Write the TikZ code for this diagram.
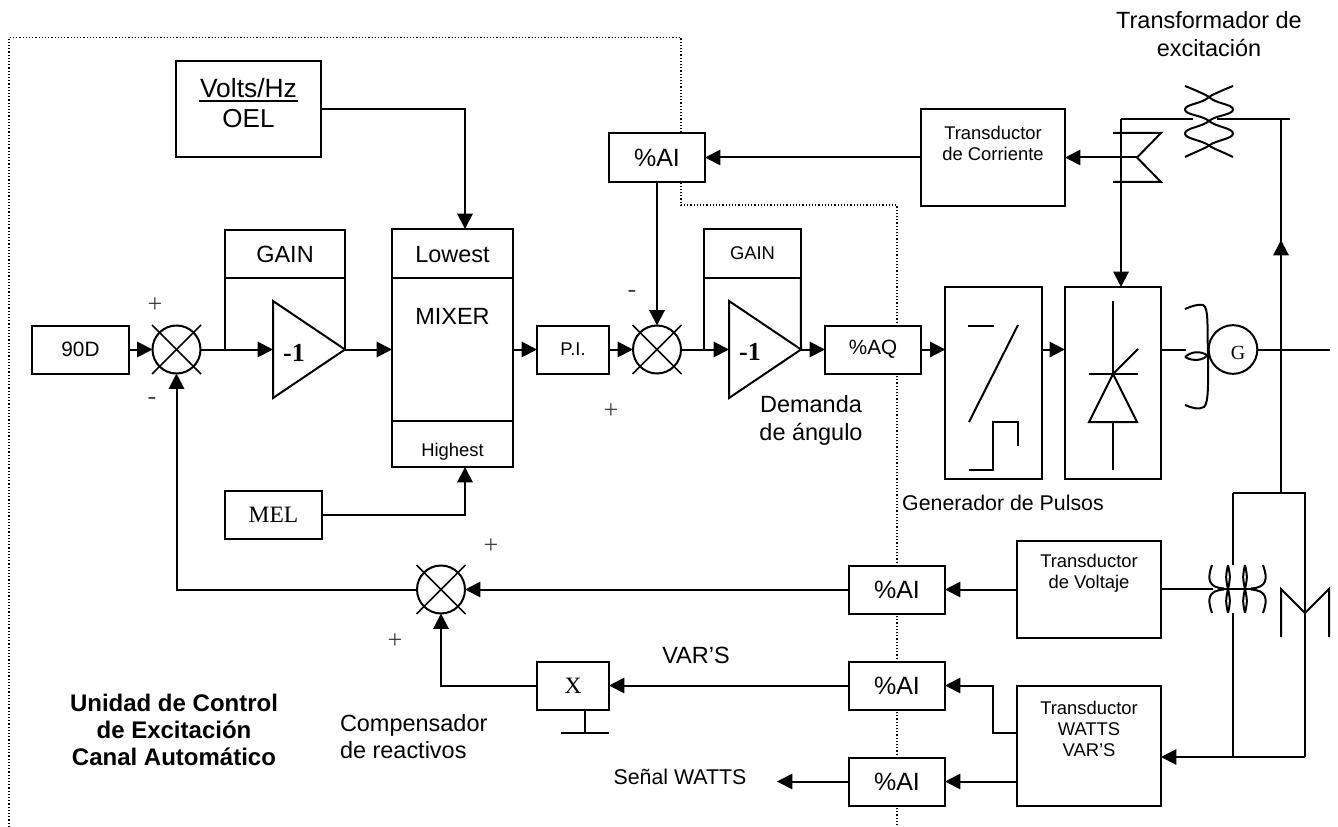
\documentclass[tikz,border=0pt]{standalone}
\usepackage{fontspec}
\setmainfont{Liberation Sans}
\newfontfamily\serifx{Liberation Serif}
\usetikzlibrary{arrows.meta,calc}
\tikzset{
  x=0.75pt,y=-0.75pt,
  ln/.style={line width=1.5pt,line join=miter},
  arr/.style={ln,-{Triangle[length=11.5pt,width=11.5pt]},shorten >=0pt},
  blk/.style={draw,fill=white,line width=1.5pt,rectangle,inner sep=0pt,outer sep=0pt,align=center},
  txt/.style={inner sep=0pt,outer sep=0pt,align=center,text=black},
  f24/.style={font=\fontsize{17.6}{20.5}\selectfont},
  f25/.style={font=\fontsize{18.75}{20.5}\selectfont},
  f21/.style={font=\fontsize{15.6}{20}\selectfont},
  f18/.style={font=\fontsize{13.8}{15.8}\selectfont},
  sumc/.style={circle,draw,fill=white,line width=1.5pt,minimum size=36pt,inner sep=0pt,outer sep=0pt},
  dots/.style={line width=0.9pt,dash pattern=on 0.9pt off 1.5pt},
  sym/.style={line width=1.5pt},
  cross/.style={line width=1.2pt},
  signt/.style={txt,font=\serifx\fontsize{19.5}{20}\selectfont,text=black!75},
}
\newcommand{\sumx}[3]{%
  \node[sumc] (#1) at (#2,#3) {};
  \draw[cross] ($(#1)+(-24.5,-24.5)$) -- ($(#1)+(24.5,24.5)$);
  \draw[cross] ($(#1)+(-24.5,24.5)$) -- ($(#1)+(24.5,-24.5)$);
}
\begin{document}
\begin{tikzpicture}
\fill[white] (0,0) rectangle (1338,827);
\useasboundingbox (0,0) rectangle (1338,827);
% dotted frame
\draw[dots] (9,827) -- (9,37.5) -- (681,37.5) -- (681,205) -- (897,205) -- (897,827);
% top left
\node[blk,minimum width=108.75pt,minimum height=72pt] (volts) at (248.5,109) {};
\node[txt] (voltst) at (248.5,88) {\fontsize{19.8}{22}\selectfont Volts/Hz};
\draw[line width=1.5pt] (199,101) -- (298,101);
\node[txt] (oelt) at (248.5,119) {\fontsize{19.5}{22}\selectfont OEL};
% input
\node[blk,f21,minimum width=72.75pt,minimum height=36pt] (d90) at (80.5,349.5) {90D};
\sumx{s1}{176.5}{349.5}
\node[blk,f24,minimum width=90pt,minimum height=36pt] (gain1) at (285,254) {GAIN};
\coordinate (t1i) at (273,349.5);
\coordinate (t1o) at (345,349.5);
\draw[ln,fill=white] (273,301) -- (345,349.5) -- (273,398) -- cycle;
\node[txt] (m1) at (294,353) {\serifx\bfseries\fontsize{19.5}{22}\selectfont -1};
% mixer
\node[blk,minimum width=90.75pt,minimum height=178.5pt] (mix) at (452.5,348) {};
\coordinate (mixTop) at (465,229);
\coordinate (mixBot) at (465,467);
\draw[ln] (392.5,278) -- (513,278);
\draw[ln] (392.5,421) -- (513,421);
\node[txt,f24] (lowest) at (452.5,255) {Lowest};
\node[txt,f24] (mixert) at (452.5,316) {MIXER};
\node[txt,f18] (highest) at (452.5,452) {Highest};
\node[blk,minimum width=72.75pt,minimum height=36pt] (mel) at (273.5,514.5) {\serifx\fontsize{17.6}{20}\selectfont MEL};
% PI and second sum
\node[blk,f18,minimum width=54pt,minimum height=36pt] (pi) at (573,349.5) {P.I.};
\sumx{s2}{657}{349.5}
\node[blk,font=\fontsize{18.75}{22}\selectfont,minimum width=72pt,minimum height=36.5pt] (aitop) at (657,157.5) {\%AI};
\node[blk,f18,minimum width=72.5pt,minimum height=36.75pt] (gain2) at (752.5,253.5) {GAIN};
\coordinate (t2i) at (729,349.5);
\coordinate (t2o) at (801,349.5);
\draw[ln,fill=white] (729,301) -- (801,349.5) -- (729,398) -- cycle;
\node[txt] (m2) at (750,352) {\serifx\bfseries\fontsize{19.5}{22}\selectfont -1};
\node[blk,font=\fontsize{15.5}{18}\selectfont,minimum width=72pt,minimum height=36pt] (aq) at (873,349.5) {\%AQ};
\node[txt,f24] (demanda) at (811,420.5) {Demanda\\de ángulo};
% pulse generator
\node[blk,minimum width=72.25pt,minimum height=144pt] (pg) at (993.5,383) {};
\draw[sym] (968,326) -- (994,326);
\draw[sym] (1018,325) -- (969,422);
\draw[sym] (969,470) -- (993,470) -- (993,422) -- (1018,422) -- (1018,446);
\node[txt] (pgt) at (1003,503) {\fontsize{16}{18}\selectfont Generador de Pulsos};
% thyristor
\node[blk,minimum width=72.25pt,minimum height=144pt] (th) at (1113,383) {};
\draw[sym] (1113,301) -- (1113,374);
\draw[sym] (1089,374) -- (1138,374);
\draw[sym] (1113,374) -- (1138,349);
\draw[sym] (1113,374) -- (1089,422) -- (1137,422) -- cycle;
\draw[sym] (1113,422) -- (1113,470);
% generator
\node[circle,draw,fill=white,line width=1.5pt,minimum size=36.5pt,inner sep=0pt,outer sep=0pt] (gen) at (1233,349.5) {};
\node[txt] (gent) at (1238,353) {\serifx\fontsize{15}{17}\selectfont G};
\coordinate (brL) at (1186,349.5);
\draw[sym] (1185,309) .. controls (1192,306) and (1198,304) .. (1203,305)
  .. controls (1209,307) and (1207,330) .. (1208,352)
  .. controls (1208,380) and (1209,403) .. (1204,407)
  .. controls (1199,410) and (1192,408) .. (1185,405);
\draw[sym] (1185,357) .. controls (1192,351) and (1200,351) .. (1207,355)
  .. controls (1205,360) and (1193,362) .. (1185,357);
\coordinate (lineend) at (1330,349.5);
% bus
\coordinate (busTop) at (1281,119);
\coordinate (busArr) at (1281,240);
\coordinate (busBot) at (1281,493);
\coordinate (busL) at (1233,493);
\coordinate (busR) at (1305,493);
\coordinate (lineL) at (1121,119);
\coordinate (lineA) at (1193,119);
\coordinate (lineB) at (1217,119);
\coordinate (lineC) at (1290,119);
\draw[ln] (busBot) -- (busTop);
\draw[arr] (busBot) -- (busArr);
\draw[ln] (lineA) -- (lineL);
\draw[arr] (lineL) -- (th.north -| lineL);
\draw[ln] (lineB) -- (lineC);
% excitation transformer
\draw[sym] (1185,86) .. controls (1200,92) and (1208,96) .. (1209,97)
  .. controls (1216,104) and (1233,104) .. (1233,109.5)
  .. controls (1233,115) and (1216,115) .. (1209,121)
  .. controls (1202,127) and (1185,128) .. (1185,133.5)
  .. controls (1185,139) and (1202,140) .. (1209,145.5)
  .. controls (1212,148) and (1225,153) .. (1233,157);
\draw[sym] (1233,86) .. controls (1218,92) and (1210,96) .. (1209,97)
  .. controls (1202,104) and (1185,104) .. (1185,109.5)
  .. controls (1185,115) and (1202,115) .. (1209,121)
  .. controls (1216,127) and (1233,128) .. (1233,133.5)
  .. controls (1233,139) and (1216,140) .. (1209,145.5)
  .. controls (1206,148) and (1193,153) .. (1185,157);
\node[txt,f24] (tr) at (1209,34) {Transformador de\\excitación};
% current transducer
\coordinate (ctv) at (1137,157.5);
\draw[sym] (1113,133) -- (1161,133) -- (ctv) -- (1161,182) -- (1113,182);
\node[blk,minimum width=108pt,minimum height=72.5pt] (tc) at (993,157.5) {};
\node[txt,f18] (tct) at (993,143) {Transductor\\de Corriente};
% lower right
\node[blk,minimum width=108pt,minimum height=72.5pt] (tv) at (1089,589.5) {};
\node[txt,f18] (tvt) at (1089,573.5) {Transductor\\de Voltaje};
\node[blk,minimum width=108pt,minimum height=90pt] (tw) at (1089,746) {};
\node[txt,f18] (twt) at (1089,729) {Transductor\\WATTS\\VAR'S};
\node[blk,f25,minimum width=72pt,minimum height=36pt] (ai1) at (897,589.5) {\%AI};
\node[blk,f25,minimum width=72pt,minimum height=36pt] (ai2) at (897,685.5) {\%AI};
\node[blk,f25,minimum width=72pt,minimum height=36pt] (ai3) at (897,781.5) {\%AI};
\sumx{s3}{441}{589.5}
\node[blk,minimum width=54pt,minimum height=36pt] (xb) at (573,685.5) {\serifx\fontsize{17.6}{20}\selectfont X};
\coordinate (gndt) at (585,733);
\coordinate (gndl) at (561,733);
\coordinate (gndr) at (609,733);
\draw[ln] (xb.south -| gndt) -- (gndt);
\draw[ln] (gndl) -- (gndr);
\node[txt,f24] (vars) at (696,655) {VAR'S};
\node[txt,font=\fontsize{16}{18}\selectfont] (senal) at (680,777) {Señal WATTS};
\coordinate (senalend) at (777,781.5);
\node[txt,f24,align=left,anchor=west] (comp) at (340,736.5) {Compensador\\de reactivos};
\node[txt,font=\bfseries\fontsize{18}{20.5}\selectfont] (unidad) at (174,730) {Unidad de Control\\de Excitación\\Canal Automático};
% PT and CT symbols
\coordinate (ptT) at (1233,565);
\coordinate (ptB) at (1233,613);
\coordinate (wN) at (1233,757);
\coordinate (wS) at (1305,757);
\draw[ln] (busL) -- (busR) -- (wS);
\draw[ln] (busL) -- (ptT);
\draw[ln] (ptB) -- (wN);
\draw[arr] (wS) -- (tw.east |- wS);
\coordinate (ptin) at (1213,589);
\draw[ln] (tv.east |- ptin) -- (ptin);
\foreach \s/\yy in {1/565,-1/613}{
  \draw[sym] (1212,\yy) .. controls (1207,{589-\s*10}) and (1208,{589-\s*1.5}) .. (1224,{589-\s*0.5});
  \draw[sym] (1263,\yy) .. controls (1268,{589-\s*10}) and (1267,{589-\s*1.5}) .. (1251,{589-\s*0.5});
  \draw[sym] (1228,\yy) .. controls (1225.5,{589-\s*12}) .. (1228,589) .. controls (1230.5,{589-\s*12}) .. (1228,\yy);
  \draw[sym] (1245,\yy) .. controls (1242.5,{589-\s*12}) .. (1245,589) .. controls (1247.5,{589-\s*12}) .. (1245,\yy);
}
\draw[sym] (1222,589) -- (1253,589);
\draw[sym] (1281,637) -- (1281,589) -- (1305,613) -- (1329,589) -- (1329,637);
% connectors
\draw[arr] (d90.east) -- (s1.west);
\draw[arr] (s1.east) -- (t1i);
\draw[ln] (gain1.south west) -- (gain1.south west |- s1);
\draw[ln] (gain1.south east) -- (t1o);
\draw[arr] (t1o) -- (mix.west |- t1o);
\draw[arr] (volts.east) -| (mixTop);
\draw[arr] (mel.east) -| (mixBot);
\draw[arr] (mix.east |- pi) -- (pi.west);
\draw[arr] (pi.east) -- (s2.west);
\draw[arr] (s2.east) -- (t2i);
\draw[ln] (gain2.south west) -- (gain2.south west |- s2);
\draw[ln] (gain2.south east) -- (t2o);
\draw[arr] (t2o) -- (aq.west |- t2o);
\draw[arr] (aq.east) -- (pg.west |- aq);
\draw[arr] (pg.east |- aq) -- (th.west |- aq);
\draw[arr] (aitop.south) -- (s2.north);
\draw[arr] (tc.west) -- (aitop.east);
\draw[arr] (ctv) -- (tc.east);
\draw[ln] (th.east |- brL) -- (brL);
\draw[ln] (gen.east) -- (lineend);
\draw[arr] (tv.west) -- (ai1.east);
\draw[arr] (ai1.west) -- (s3.east);
\draw[arr] (s3.west) -| (s1.south);
\draw[arr] (xb.west) -| (s3.south);
\draw[arr] (ai2.west) -- (xb.east);
\coordinate (twa) at (1017,733);
\coordinate (twb) at (1017,781.5);
\coordinate (elb) at (993,733);
\draw[arr] (twa) -- (elb) |- (ai2.east);
\draw[arr] (twb) -- (ai3.east);
\draw[arr] (ai3.west) -- (senalend);
% signs
\node[signt] (p1) at (155,305) {+};
\node[signt] (n1) at (152,401) {-};
\node[signt] (n2) at (632,294) {-};
\node[signt] (p2) at (611,411) {+};
\node[signt] (p3) at (491,546) {+};
\node[signt] (p4) at (395,641) {+};
\end{tikzpicture}
\end{document}
